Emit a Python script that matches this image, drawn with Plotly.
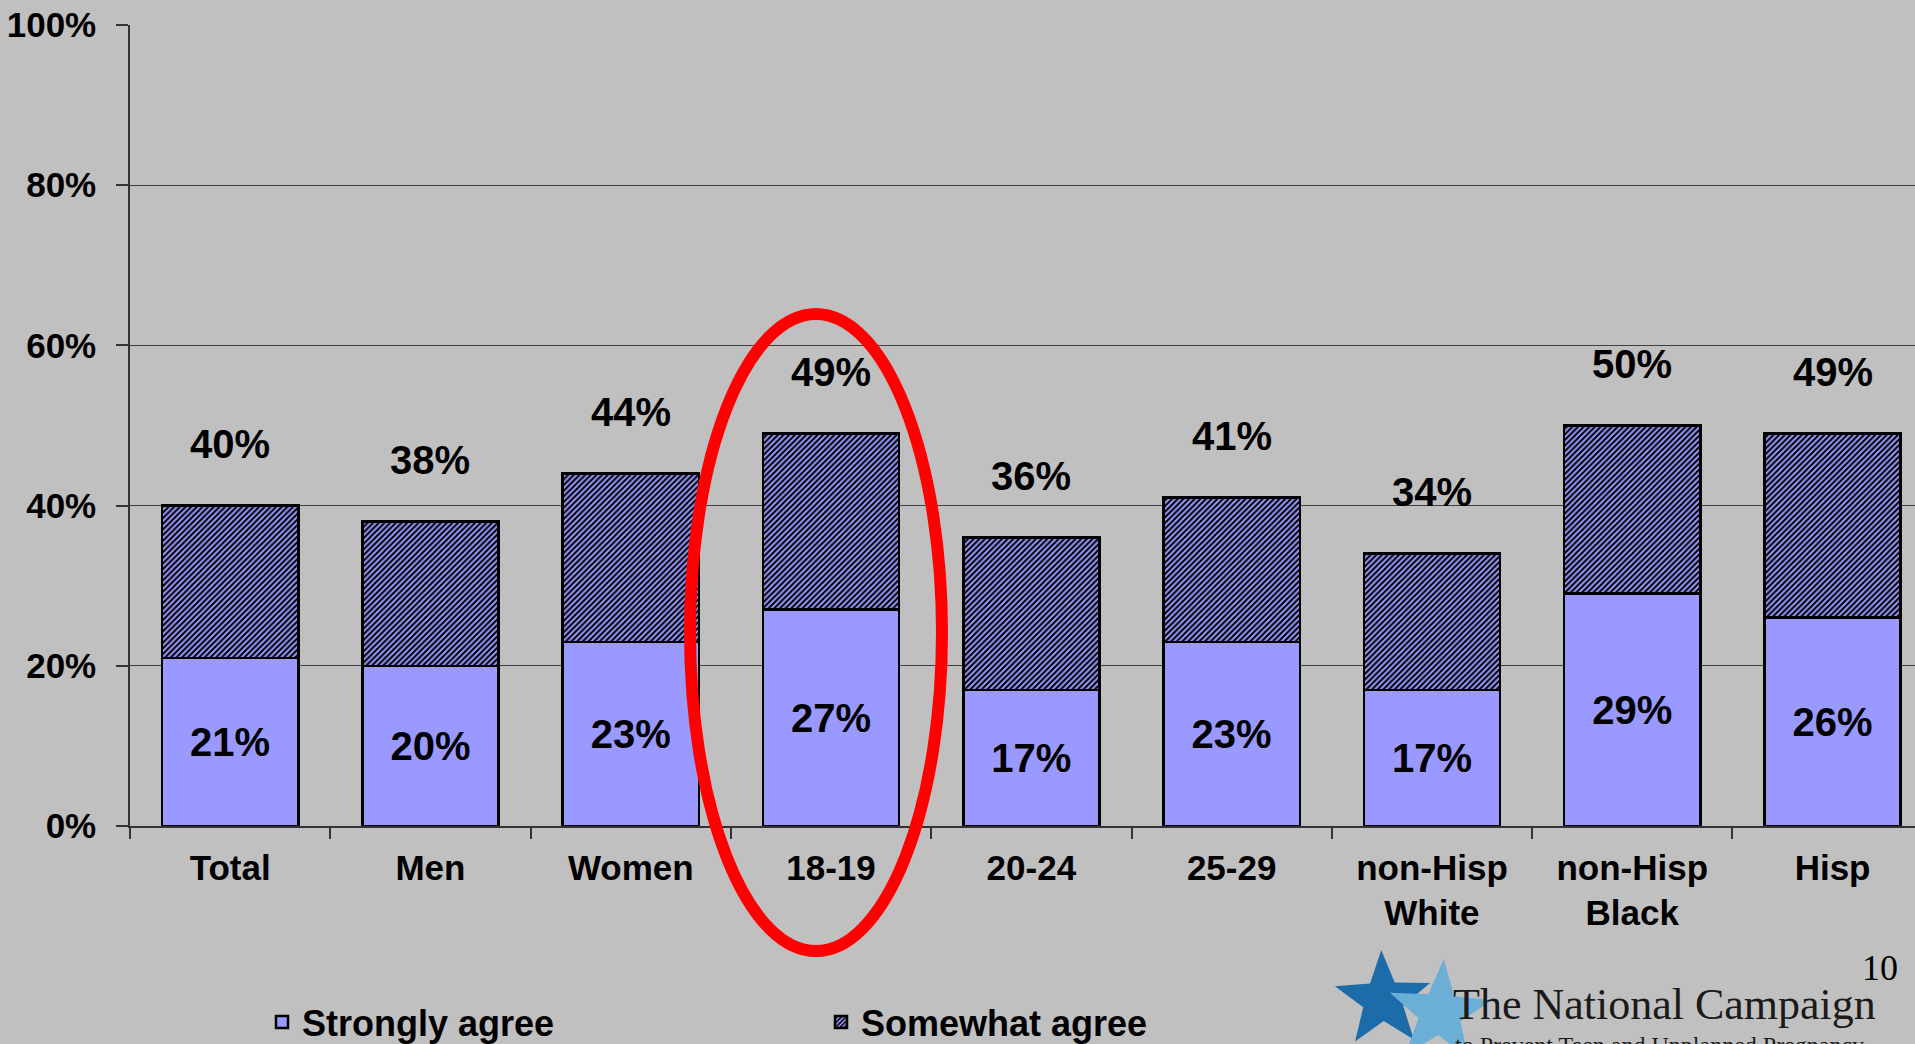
import math

import plotly.graph_objects as go

# data
categories = ["Total", "Men", "Women", "18-19", "20-24", "25-29",
              "non-Hisp<br>White", "non-Hisp<br>Black", "Hisp"]
strongly_agree = [21, 20, 23, 27, 17, 23, 17, 29, 26]
somewhat_agree = [19, 18, 21, 22, 19, 18, 17, 21, 23]
y_ticks = [0, 20, 40, 60, 80, 100]
y_tick_labels = ["0%", "20%", "40%", "60%", "80%", "100%"]

BG = "#C0C0C0"
LIGHT = "#9999FF"
FONT = "Liberation Sans"

# plot area in pixels (used to place the decorations below the axes)
PLOT_L, PLOT_T, PLOT_W, PLOT_H = 130, 25, 1785, 801
CAT_PX = 200.3


def px(x):
    return (x - PLOT_L) / PLOT_W


def py(y):
    return (PLOT_T + PLOT_H - y) / PLOT_H


def star_path(cx, cy, r_out, r_in, rot):
    pts = []
    for i in range(10):
        r = r_out if i % 2 == 0 else r_in
        a = math.radians(-90 + rot + i * 36)
        pts.append((px(cx + r * math.cos(a)), py(cy + r * math.sin(a))))
    return "M" + "L".join(f"{x:.5f},{y:.5f}" for x, y in pts) + "Z"


fig = go.Figure()
fig.add_trace(
    go.Bar(
        x=categories,
        y=strongly_agree,
        name="Strongly agree",
        marker=dict(color=LIGHT, line=dict(color="black", width=2.5)),
        text=[f"{v}%" for v in strongly_agree],
        texttemplate="%{text}",
        textposition="inside",
        insidetextanchor="middle",
        textangle=0,
        constraintext="none",
        textfont=dict(family=FONT, size=40, color="black", weight="bold"),
    )
)
fig.add_trace(
    go.Bar(
        x=categories,
        y=somewhat_agree,
        name="Somewhat agree",
        marker=dict(
            color=LIGHT,
            line=dict(color="black", width=2.5),
            pattern=dict(shape="/", size=4, solidity=0.5,
                         fgcolor="black", bgcolor=LIGHT, fillmode="replace"),
        ),
    )
)

# totals above each stack
totals = [a + b for a, b in zip(strongly_agree, somewhat_agree)]
for cat, tot in zip(categories, totals):
    fig.add_annotation(
        x=cat, y=tot, text=f"{tot}%", showarrow=False,
        yanchor="middle", yshift=62,
        font=dict(family=FONT, size=40, color="black", weight="bold"),
    )

# red ellipse around 18-19
fig.add_shape(
    type="circle", xref="paper", yref="paper",
    x0=px(690), x1=px(942), y0=py(951), y1=py(314),
    line=dict(color="#FF0000", width=12), layer="above",
)

# logo stars
fig.add_shape(type="path", xref="paper", yref="paper",
              path=star_path(1383, 1000, 50, 21, -2),
              fillcolor="#1B6CA8", line=dict(width=0), layer="above")
fig.add_shape(type="path", xref="paper", yref="paper",
              path=star_path(1440, 1013, 54, 22, 4),
              fillcolor="#6BAED6", line=dict(width=0), layer="above")

fig.add_annotation(
    xref="paper", yref="paper", x=px(1451), y=py(1005),
    xanchor="left", yanchor="middle", showarrow=False,
    text="The National Campaign",
    font=dict(family="Liberation Serif", size=44, color="#1A1A1A", weight="normal"),
)
fig.add_annotation(
    xref="paper", yref="paper", x=px(1453), y=py(1030),
    xanchor="left", yanchor="top", showarrow=False,
    text="to Prevent Teen and Unplanned Pregnancy",
    font=dict(family="Liberation Serif", size=24, color="#1A1A1A", weight="normal"),
)
fig.add_annotation(
    xref="paper", yref="paper", x=px(1900), y=py(968),
    xanchor="right", yanchor="middle", showarrow=False,
    text="10",
    font=dict(family="Liberation Serif", size=36, color="black", weight="normal"),
)

fig.update_layout(
    width=1915,
    height=1044,
    barmode="stack",
    bargap=0.32,
    paper_bgcolor=BG,
    plot_bgcolor=BG,
    margin=dict(l=PLOT_L, r=0, t=PLOT_T, b=1044 - PLOT_T - PLOT_H, autoexpand=False),
    font=dict(family=FONT, size=35, color="black", weight="bold"),
    showlegend=True,
    legend=dict(
        orientation="h", x=px(262), y=py(1022),
        xanchor="left", yanchor="middle",
        entrywidth=514, bgcolor="rgba(0,0,0,0)",
        font=dict(family=FONT, size=36, color="black", weight="bold"),
        traceorder="normal",
    ),
    xaxis=dict(
        type="category",
        range=[-0.5, -0.5 + PLOT_W / CAT_PX],
        showline=True, linecolor="#333333", linewidth=1.5,
        ticks="outside", tickson="boundaries", ticklen=11,
        tickcolor="#333333", tickwidth=1.5,
        showgrid=False,
        ticklabelstandoff=10,
        tickfont=dict(family=FONT, size=35, color="black", weight="bold"),
    ),
    yaxis=dict(
        range=[0, 100],
        tickvals=y_ticks,
        ticktext=y_tick_labels,
        showline=True, linecolor="#333333", linewidth=1.5,
        ticks="outside", ticklen=12, tickcolor="#333333", tickwidth=1.5,
        showgrid=True, gridcolor="#404040", gridwidth=1,
        zeroline=False,
        ticklabelstandoff=13,
        tickfont=dict(family=FONT, size=35, color="black", weight="bold"),
    ),
)

fig.write_html(
    "out.html",
    config={"displayModeBar": False},
    post_script="document.body.style.margin='0';",
)
